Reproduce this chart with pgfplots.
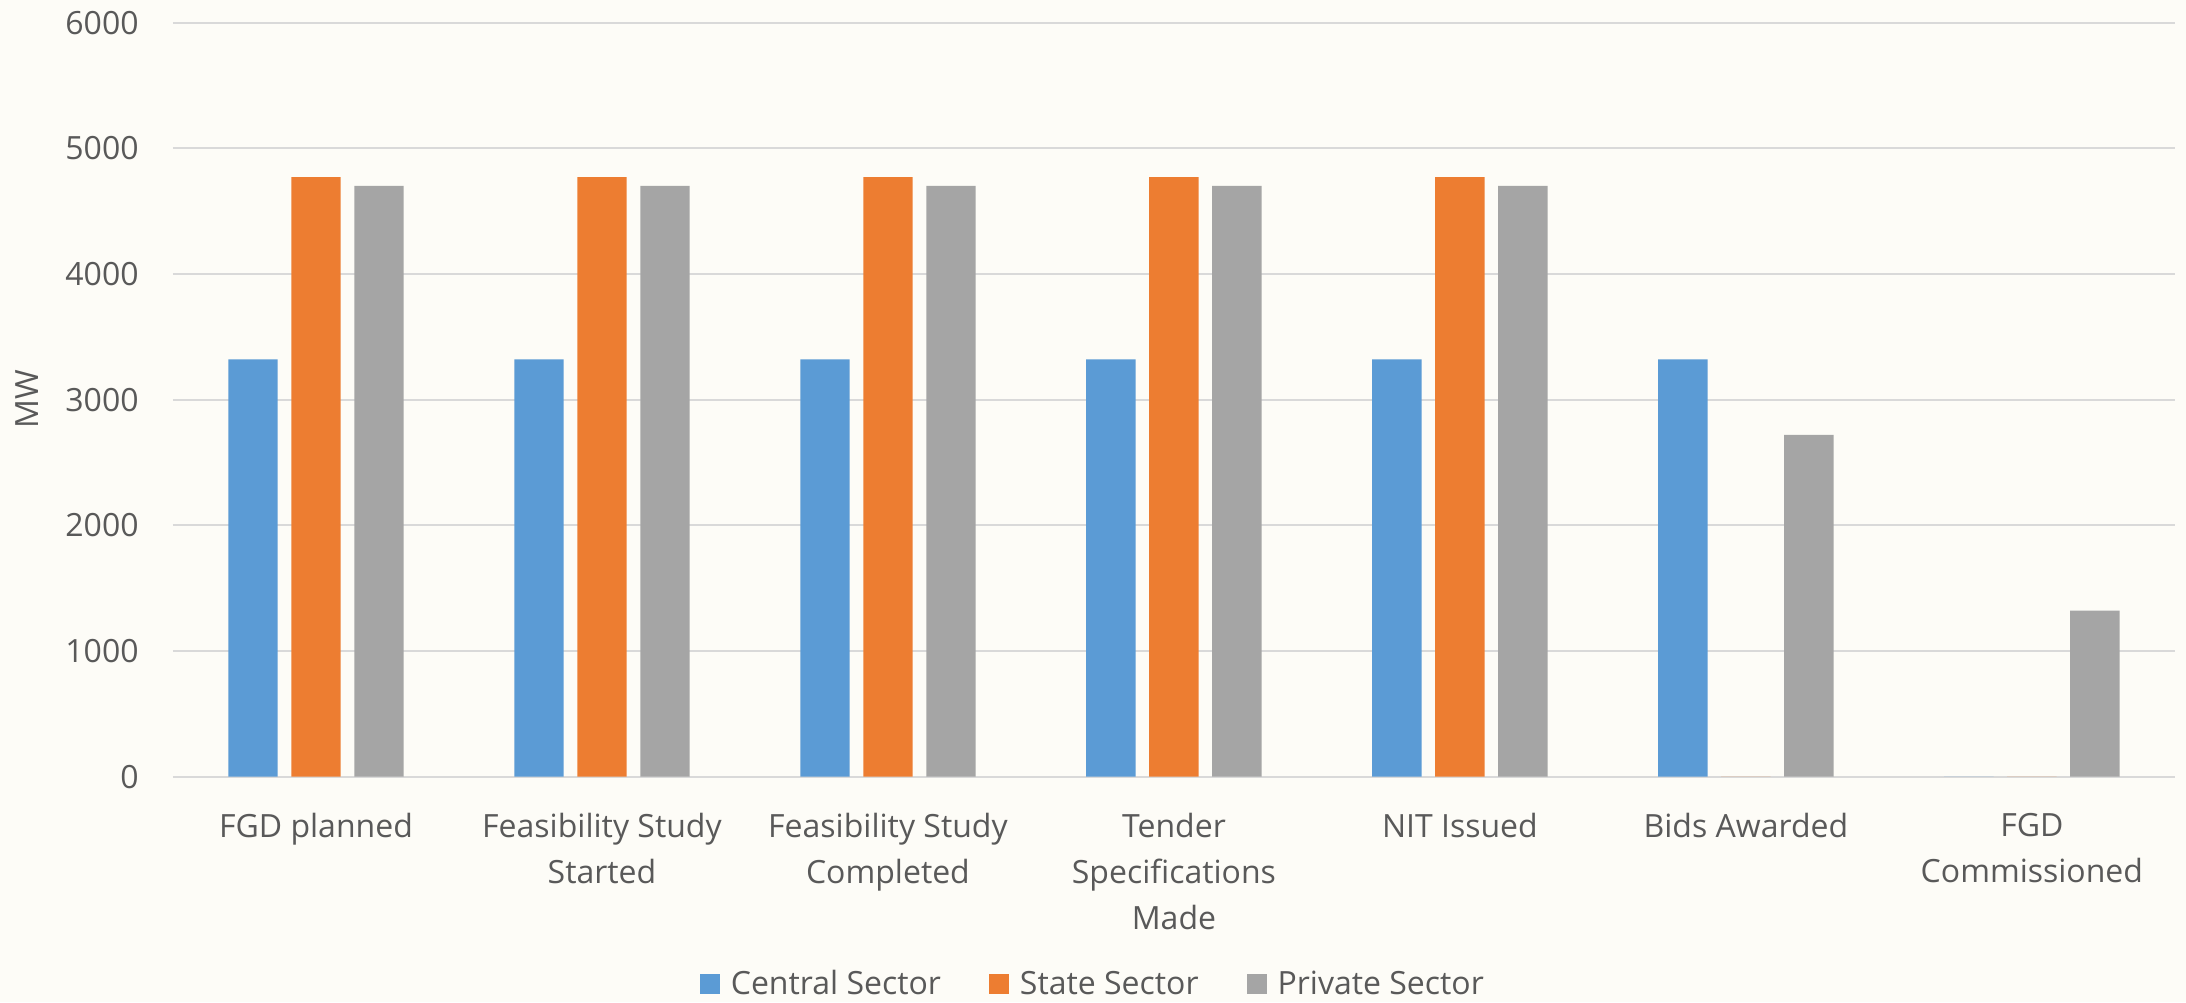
\documentclass[border=0pt]{standalone}
\usepackage{fontspec}
\setmainfont{Open Sans}
\usepackage{pgfplots}
\pgfplotsset{compat=1.18}
\definecolor{cblue}{HTML}{5B9BD5}
\definecolor{corange}{HTML}{ED7D31}
\definecolor{cgray}{HTML}{A5A5A5}
\definecolor{bgc}{HTML}{FDFCF7}
\definecolor{gridc}{HTML}{D9D9D9}
\definecolor{txt}{HTML}{595959}
\begin{document}
\begin{tikzpicture}
\fill[bgc, use as bounding box] (0,0) rectangle (1093pt,501pt);
\begin{axis}[
  at={(86.5pt,112.7pt)}, anchor=south west,
  scale only axis, width=1001pt, height=377pt,
  ybar=6.8pt, bar width=24.7pt,
  xmin=-0.5, xmax=6.5, ymin=0, ymax=6000,
  xtick={0,1,2,3,4,5,6},
  xticklabels={FGD planned, Feasibility Study\\Started, Feasibility Study\\Completed, Tender\\Specifications\\Made, NIT Issued, Bids Awarded, FGD\\Commissioned},
  ytick={0,1000,2000,3000,4000,5000,6000},
  ymajorgrids, grid style={gridc, line width=1pt},
  axis line style={draw=none}, major tick length=0pt,
  tick label style={font=\fontsize{16}{23}\selectfont, text=txt},
  /pgf/number format/assume math mode=true,
  /pgf/number format/1000 sep={},
  xticklabel style={align=center, anchor=north, inner sep=0pt, yshift=-18pt},
  yticklabel style={anchor=east, inner sep=0pt, xshift=-17pt},
  ylabel={MW},
  every axis y label/.style={at={(axis description cs:-0.0727,0.5)}, rotate=90, anchor=center, font=\fontsize{16}{20}\selectfont, text=txt},
  legend style={at={(0.46,-0.275)}, anchor=center, draw=none, fill=none, legend columns=-1,
    font=\fontsize{16}{20}\selectfont, text=txt,
    /tikz/every even column/.append style={column sep=22pt},
    /tikz/every odd column/.append style={column sep=3.5pt}},
  legend cell align=left,
  legend image code/.code={\fill[#1, draw=none] (0pt,-5pt) rectangle (10pt,5pt);},
]
\addplot[fill=cblue, draw=none] coordinates {(0,3320) (1,3320) (2,3320) (3,3320) (4,3320) (5,3320) (6,0)};
\addplot[fill=corange, draw=none] coordinates {(0,4770) (1,4770) (2,4770) (3,4770) (4,4770) (5,0) (6,0)};
\addplot[fill=cgray, draw=none] coordinates {(0,4700) (1,4700) (2,4700) (3,4700) (4,4700) (5,2720) (6,1320)};
\addlegendentry{Central Sector}
\addlegendentry{State Sector}
\addlegendentry{Private Sector}
\end{axis}
\end{tikzpicture}
\end{document}
